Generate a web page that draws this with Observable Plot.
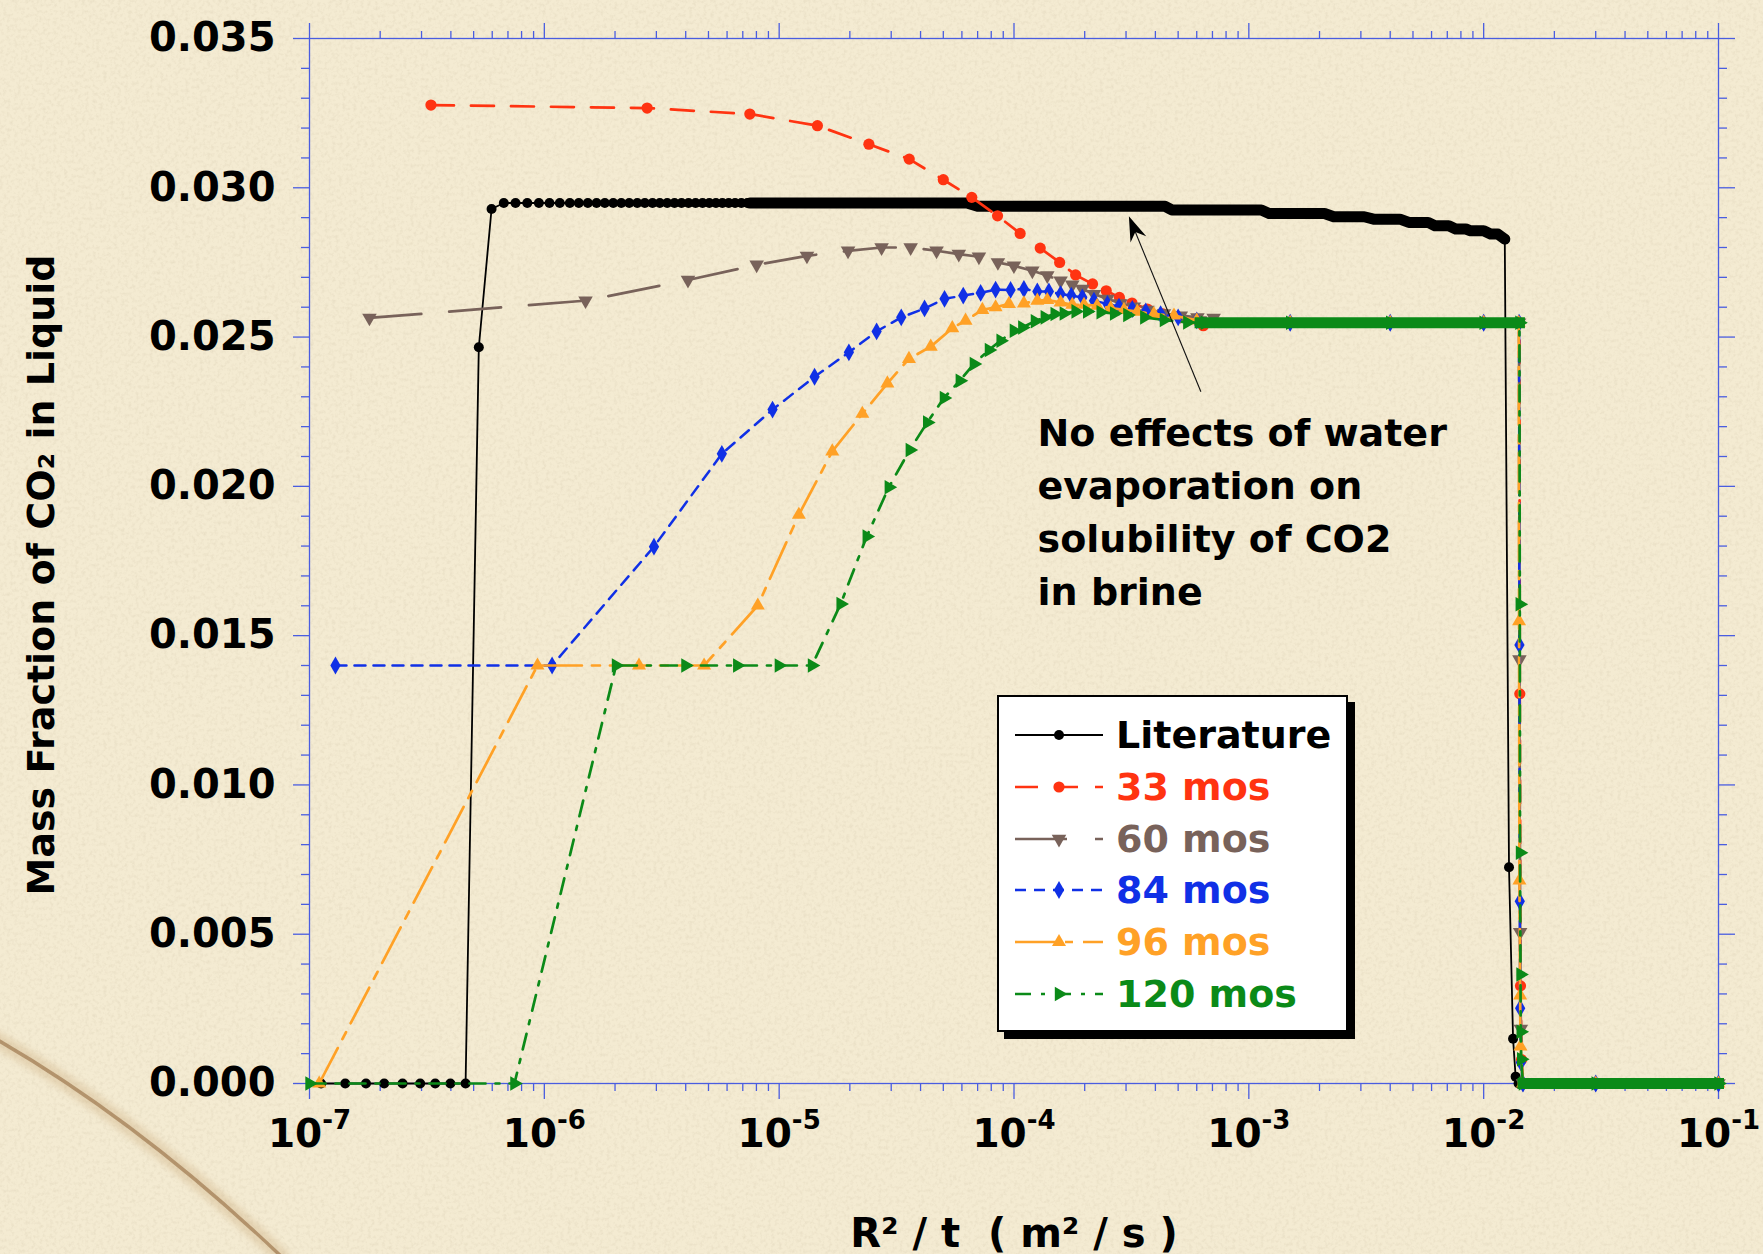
<!DOCTYPE html>
<html>
<head>
<meta charset="utf-8">
<script src="https://cdn.jsdelivr.net/npm/d3@7"></script>
<script src="https://cdn.jsdelivr.net/npm/@observablehq/plot@0.6"></script>
<style>
  html, body { margin: 0; padding: 0; background: #f2e8cd; }
  #wrap { position: relative; width: 1763px; height: 1254px; overflow: hidden; background: #f3e9cf; }
  #paper { position: absolute; left: 0; top: 0; }
  #wrap > svg.plot { position: absolute; left: 0; top: 0; }
  #legend { position: absolute; left: 997px; top: 695px; width: 351px; height: 337px; box-sizing: border-box;
            background: #ffffff; border: 2px solid #000; box-shadow: 7px 7px 0 #000; font-family: "DejaVu Sans", sans-serif; }
  .row { position: absolute; left: 0; height: 50px; width: 100%; }
  .row svg { position: absolute; left: 16px; top: 0; }
  .row span { position: absolute; left: 117px; top: 0; height: 50px; line-height: 50px; font-size: 38px; font-weight: bold; white-space: nowrap; }
</style>
</head>
<body>
<div id="wrap">
  <svg id="paper" width="1763" height="1254">
    <defs>
      <filter id="grain" x="0" y="0" width="100%" height="100%">
        <feTurbulence type="fractalNoise" baseFrequency="0.28" numOctaves="3" seed="7"/>
        <feColorMatrix type="matrix" values="0 0 0 0 0.50  0 0 0 0 0.42  0 0 0 0 0.28  0 0 0 -1.1 0.62"/>
      </filter>
      <filter id="soft"><feGaussianBlur stdDeviation="3"/></filter>
    </defs>
    <rect width="1763" height="1254" fill="#f4ebd2"/>
    <rect width="1763" height="1254" filter="url(#grain)" opacity="0.35"/>
    <path d="M-20,1030 C70,1080 170,1150 285,1260" stroke="#c9a878" stroke-width="16" fill="none" opacity="0.35" filter="url(#soft)"/>
    <path d="M-20,1030 C70,1080 170,1150 285,1260" stroke="#8a5f33" stroke-width="3.5" fill="none" opacity="0.55"/>
  </svg>
</div>
<script>
// ---------------- data ----------------
const xMajor = [1e-7, 1e-6, 1e-5, 1e-4, 1e-3, 1e-2, 1e-1];
const xTickLabels = ["10|-7", "10|-6", "10|-5", "10|-4", "10|-3", "10|-2", "10|-1"];
const yMajor = [0, 0.005, 0.010, 0.015, 0.020, 0.025, 0.030, 0.035];
const yTickLabels = ["0.000", "0.005", "0.010", "0.015", "0.020", "0.025", "0.030", "0.035"];

const seriesNames = ["Literature", "33 mos", "60 mos", "84 mos", "96 mos", "120 mos"];

// Literature (individually visible points)
const litX = [1.12e-7, 1.42e-7, 1.74e-7, 2.08e-7, 2.49e-7, 2.96e-7, 3.43e-7, 3.98e-7, 4.62e-7,
  5.26e-7, 5.96e-7,
  6.72e-7, 7.54e-7, 8.46e-7, 9.48e-7, 1.052e-6, 1.164e-6, 1.284e-6, 1.402e-6, 1.532e-6, 1.669e-6,
  1.81e-6, 1.965e-6, 2.126e-6, 2.299e-6, 2.487e-6, 2.679e-6, 2.889e-6, 3.103e-6, 3.336e-6, 3.584e-6,
  3.839e-6, 4.112e-6, 4.406e-6, 4.718e-6, 5.04e-6, 5.38e-6, 5.73e-6, 6.10e-6, 6.49e-6, 6.90e-6,
  7.32e-6, 7.77e-6, 8.23e-6,
  1.23e-2, 1.282e-2, 1.334e-2, 1.368e-2, 1.408e-2];
const litY = [0, 0, 0, 0, 0, 0, 0, 0, 0,
  0.02466, 0.02929,
  0.02949, 0.02949, 0.02949, 0.02949, 0.02949, 0.02949, 0.02949, 0.02949, 0.02949, 0.02949,
  0.02949, 0.02949, 0.02949, 0.02949, 0.02949, 0.02949, 0.02949, 0.02949, 0.02949, 0.02949,
  0.02949, 0.02949, 0.02949, 0.02949, 0.02949, 0.02949, 0.02949, 0.02949, 0.02949, 0.02949,
  0.02949, 0.02949, 0.02949,
  0.02828, 0.00724, 0.0015, 0.00023, 0];
// Literature: densely packed points that merge into a solid band
const litBandX = [7.5e-6, 6.3e-5, 7.0e-5, 4.4e-4, 4.7e-4, 1.13e-3, 1.22e-3, 2.1e-3, 2.3e-3, 3.1e-3, 3.4e-3,
  4.4e-3, 4.8e-3, 5.8e-3, 6.2e-3, 7.1e-3, 7.6e-3, 8.4e-3, 8.8e-3, 1.0e-2, 1.07e-2, 1.15e-2, 1.23e-2];
const litBandY = [0.02949, 0.02949, 0.02938, 0.02938, 0.02926, 0.02926, 0.02914, 0.02914, 0.02903, 0.02903, 0.02895,
  0.02895, 0.02884, 0.02884, 0.02873, 0.02873, 0.02862, 0.02862, 0.02856, 0.02856, 0.02845, 0.02845, 0.02828];

const redX = [3.29e-7, 2.74e-6, 7.50e-6, 1.455e-5, 2.41e-5, 3.58e-5, 5.00e-5, 6.61e-5, 8.51e-5, 1.062e-4,
  1.293e-4, 1.564e-4, 1.83e-4, 2.16e-4, 2.47e-4, 2.81e-4, 3.18e-4, 3.70e-4, 4.30e-4, 5.10e-4, 6.40e-4,
  1.5e-3, 4.0e-3, 1.0e-2, 1.42e-2, 1.425e-2, 1.435e-2, 1.45e-2, 1.47e-2, 3.0e-2, 0.1];
const redY = [0.03277, 0.03267, 0.03247, 0.03208, 0.03146, 0.03096, 0.03027, 0.02968, 0.02906, 0.02847,
  0.02798, 0.0275, 0.02708, 0.02678, 0.02655, 0.02633, 0.02614, 0.02594, 0.02578, 0.02566, 0.02538,
  0.02548, 0.02548, 0.02548, 0.02548, 0.01305, 0.00327, 0.0008, 0, 0, 0];

const grayX = [1.80e-7, 1.498e-6, 4.09e-6, 8.02e-6, 1.313e-5, 1.965e-5, 2.73e-5, 3.63e-5, 4.68e-5, 5.82e-5,
  7.09e-5, 8.54e-5, 9.99e-5, 1.197e-4, 1.386e-4, 1.579e-4, 1.771e-4, 1.954e-4, 2.19e-4, 2.50e-4,
  2.84e-4, 3.24e-4, 3.70e-4, 4.35e-4, 5.13e-4, 6.04e-4, 7.08e-4,
  1.5e-3, 4.0e-3, 1.0e-2, 1.415e-2, 1.42e-2, 1.43e-2, 1.44e-2, 1.47e-2, 3.0e-2, 0.1];
const grayY = [0.02564, 0.02622, 0.02691, 0.02742, 0.02772, 0.02789, 0.0280, 0.0280, 0.02789, 0.02778,
  0.02769, 0.0275, 0.02739, 0.02722, 0.02706, 0.02689, 0.02675, 0.02661, 0.02644, 0.02628,
  0.02613, 0.02602, 0.02591, 0.02579, 0.02572, 0.02566, 0.02564,
  0.02548, 0.02548, 0.02548, 0.02548, 0.0142, 0.00507, 0.00183, 0, 0, 0];

const blueX = [1.29e-7, 1.079e-6, 2.93e-6, 5.70e-6, 9.37e-6, 1.415e-5, 1.981e-5, 2.60e-5, 3.31e-5, 4.16e-5,
  5.06e-5, 6.08e-5, 7.21e-5, 8.35e-5, 9.67e-5, 1.102e-4, 1.257e-4, 1.408e-4, 1.579e-4, 1.754e-4,
  1.954e-4, 2.19e-4, 2.50e-4, 2.80e-4, 3.19e-4, 3.64e-4, 4.21e-4, 5.0e-4, 6.0e-4,
  1.5e-3, 4.0e-3, 1.0e-2, 1.415e-2, 1.42e-2, 1.425e-2, 1.43e-2, 1.44e-2, 1.47e-2, 3.0e-2, 0.1];
const blueY = [0.0140, 0.0140, 0.01798, 0.02109, 0.02257, 0.02367, 0.02449, 0.02519, 0.02566, 0.02596,
  0.02628, 0.02639, 0.02648, 0.02659, 0.02658, 0.02661, 0.02653, 0.02653, 0.02644, 0.02639,
  0.02633, 0.02622, 0.02611, 0.02602, 0.02594, 0.02586, 0.02577, 0.02566, 0.02556,
  0.02548, 0.02548, 0.02548, 0.02548, 0.01469, 0.0061, 0.00252, 0.0007, 0, 0, 0];

const orangeX = [1.10e-7, 9.35e-7, 2.53e-6, 4.79e-6, 8.11e-6, 1.213e-5, 1.683e-5, 2.26e-5, 2.89e-5, 3.57e-5,
  4.42e-5, 5.46e-5, 6.22e-5, 7.33e-5, 8.35e-5, 9.52e-5, 1.102e-4, 1.257e-4, 1.386e-4, 1.579e-4,
  1.771e-4, 1.987e-4, 2.26e-4, 2.58e-4, 2.94e-4, 3.35e-4, 3.94e-4, 4.80e-4, 6.0e-4,
  1.5e-3, 4.0e-3, 1.0e-2, 1.41e-2, 1.415e-2, 1.42e-2, 1.43e-2, 1.435e-2, 1.47e-2, 3.0e-2, 0.1];
const orangeY = [0, 0.0140, 0.0140, 0.0140, 0.01601, 0.01905, 0.02117, 0.02243, 0.02345, 0.02427,
  0.02468, 0.0253, 0.02555, 0.02591, 0.0260, 0.02611, 0.02613, 0.02622, 0.02624, 0.02616,
  0.02608, 0.02608, 0.02605, 0.02597, 0.02591, 0.02585, 0.02577, 0.02572, 0.02556,
  0.02548, 0.02548, 0.02548, 0.02548, 0.01548, 0.0068, 0.00295, 0.00124, 0, 0, 0];

const greenX = [1.0e-7, 7.46e-7, 2.02e-6, 3.99e-6, 6.63e-6, 9.97e-6, 1.38e-5, 1.827e-5, 2.36e-5, 2.93e-5,
  3.60e-5, 4.27e-5, 5.03e-5, 5.88e-5, 6.75e-5, 7.82e-5, 8.77e-5, 9.99e-5, 1.085e-4, 1.228e-4,
  1.353e-4, 1.49e-4, 1.63e-4, 1.83e-4, 2.05e-4, 2.34e-4, 2.67e-4, 3.04e-4, 3.59e-4, 4.35e-4,
  5.47e-4, 6.5e-4, 1.5e-3, 4.0e-3, 1.0e-2, 1.42e-2,
  1.425e-2, 1.428e-2, 1.435e-2, 1.438e-2, 1.445e-2, 1.47e-2, 3.0e-2, 0.1];
const greenY = [0, 0, 0.0140, 0.0140, 0.0140, 0.0140, 0.0140, 0.01606, 0.01832, 0.01997,
  0.02122, 0.02214, 0.02296, 0.02354, 0.0241, 0.02457, 0.02488, 0.02521, 0.02532, 0.02553,
  0.02566, 0.02577, 0.02579, 0.02586, 0.02586, 0.02583, 0.02579, 0.02574, 0.02566, 0.02557,
  0.02549, 0.02548, 0.02548, 0.02548, 0.02548, 0.02548,
  0.01605, 0.00773, 0.00365, 0.00173, 0.00081, 0, 0, 0];

// dense overlapping markers of the model runs forming solid bands
const modelBandX = [6.2e-4, 1.42e-2];
const modelBandY = [0.02548, 0.02548];
const zeroBandX = [1.47e-2, 0.1];
const zeroBandY = [0, 0];

// annotation
const noteX = [1.26e-4];
const noteY = [0.0226];
const noteText = ["No effects of water\nevaporation on\nsolubility of CO2\nin brine"];
const arrowX = [6.28e-4, 3.1e-4];
const arrowY = [0.02315, 0.02903];

// ---------------- styles ----------------
const AXIS = "#4a5de0";
const COLORS = ["#000000", "#ff3311", "#78625a", "#1030e6", "#ffa126", "#0b8a18"];
const DASH = [null, "23,17", "52,28", "11,8", "40,10,8,10", "16,10,4,10"];
const FONT = "DejaVu Sans, sans-serif";

const rows = (xs, ys) => xs.map((x, i) => ({x, y: ys[i]}));
const lit = rows(litX, litY);
const litBand = rows(litBandX, litBandY);
const litLine = lit.concat(litBand).sort((a, b) => a.x - b.x);
const red = rows(redX, redY), gray = rows(grayX, grayY), blue = rows(blueX, blueY);
const orange = rows(orangeX, orangeY), green = rows(greenX, greenY);

const xMinor = [];
for (let e = -7; e < -1; e++) for (let k = 2; k <= 9; k++) xMinor.push(k * Math.pow(10, e));
const yMinor = d3.range(0, 36).map(i => i / 1000).filter(v => Math.round(v * 1000) % 5 !== 0);

function arrowMark(index, scales) {
  const x1 = scales.x(arrowX[0]), y1 = scales.y(arrowY[0]);
  const x2 = scales.x(arrowX[1]), y2 = scales.y(arrowY[1]);
  const dx = x2 - x1, dy = y2 - y1, L = Math.hypot(dx, dy);
  const ux = dx / L, uy = dy / L, px = -uy, py = ux;
  const len = 25, hw = 8.5, notch = 8;
  const bx = x2 - ux * len, by = y2 - uy * len;
  const nx = x2 - ux * (len - notch), ny = y2 - uy * (len - notch);
  const g = d3.create("svg:g");
  g.append("line").attr("x1", x1).attr("y1", y1).attr("x2", nx).attr("y2", ny)
    .attr("stroke", "#111").attr("stroke-width", 1.1);
  g.append("path")
    .attr("d", `M${x2},${y2}L${bx + px * hw},${by + py * hw}L${nx},${ny}L${bx - px * hw},${by - py * hw}Z`)
    .attr("fill", "#000");
  return g.node();
}

const axisCommon = {stroke: AXIS, strokeWidth: 1.3, label: null};
const blank = () => "";
const R = [5, 5.6, 5.4, 5.4, 5.2, 5.4];

const plot = Plot.plot({
  width: 1763,
  height: 1254,
  marginLeft: 309,
  marginRight: 45,
  marginTop: 38,
  marginBottom: 171,
  className: "plot",
  style: {background: "transparent", fontFamily: FONT, color: "#000"},
  x: {type: "log", domain: [1e-7, 0.1]},
  y: {domain: [0, 0.035]},
  marks: [
    // axes
    Plot.frame({stroke: AXIS, strokeWidth: 1.3}),
    Plot.axisX({...axisCommon, anchor: "bottom", ticks: xMajor, tickSize: 16, tickPadding: 20,
      tickFormat: d => xTickLabels[xMajor.indexOf(d)], fill: "#000", fontSize: 39, fontWeight: "bold"}),
    Plot.axisX({...axisCommon, anchor: "bottom", ticks: xMinor, tickSize: 8, tickFormat: blank}),
    Plot.axisX({...axisCommon, anchor: "top", ticks: xMajor, tickSize: 16, tickFormat: blank}),
    Plot.axisX({...axisCommon, anchor: "top", ticks: xMinor, tickSize: 8, tickFormat: blank}),
    Plot.axisY({...axisCommon, anchor: "left", ticks: yMajor, tickSize: 16, tickPadding: 18,
      tickFormat: d => yTickLabels[yMajor.indexOf(d)], fill: "#000", fontSize: 40, fontWeight: "bold"}),
    Plot.axisY({...axisCommon, anchor: "left", ticks: yMinor, tickSize: 8, tickFormat: blank}),
    Plot.axisY({...axisCommon, anchor: "right", ticks: yMajor, tickSize: 16, tickFormat: blank}),
    Plot.axisY({...axisCommon, anchor: "right", ticks: yMinor, tickSize: 8, tickFormat: blank}),

    // axis titles
    Plot.text(["Mass Fraction of CO\u2082 in Liquid"], {frameAnchor: "left", dx: -268, dy: 14, rotate: -90,
      textAnchor: "middle", lineAnchor: "middle", fontSize: 38, fontWeight: "bold", fill: "#000"}),
    Plot.text(["R\u00B2 / t \u00A0( m\u00B2 / s )"], {frameAnchor: "bottom", dy: 163, lineAnchor: "bottom",
      textAnchor: "middle", fontSize: 40, fontWeight: "bold", fill: "#000"}),

    // Literature
    Plot.line(litLine, {x: "x", y: "y", stroke: COLORS[0], strokeWidth: 1.8}),
    Plot.line(litBand, {x: "x", y: "y", stroke: COLORS[0], strokeWidth: 11, strokeLinecap: "round", strokeLinejoin: "round"}),
    Plot.dot(lit, {x: "x", y: "y", fill: COLORS[0], r: R[0], symbol: "circle"}),

    // 33 mos
    Plot.line(red, {x: "x", y: "y", stroke: COLORS[1], strokeWidth: 2.7, strokeDasharray: DASH[1]}),
    Plot.dot(red, {x: "x", y: "y", fill: COLORS[1], r: R[1], symbol: "circle"}),
    // 60 mos
    Plot.line(gray, {x: "x", y: "y", stroke: COLORS[2], strokeWidth: 2.7, strokeDasharray: DASH[2]}),
    Plot.dot(gray, {x: "x", y: "y", fill: COLORS[2], r: R[2], symbol: "triangle", rotate: 180}),
    // 84 mos
    Plot.line(blue, {x: "x", y: "y", stroke: COLORS[3], strokeWidth: 2.5, strokeDasharray: DASH[3]}),
    Plot.dot(blue, {x: "x", y: "y", fill: COLORS[3], r: R[3], symbol: "diamond"}),
    // 96 mos
    Plot.line(orange, {x: "x", y: "y", stroke: COLORS[4], strokeWidth: 2.7, strokeDasharray: DASH[4]}),
    Plot.dot(orange, {x: "x", y: "y", fill: COLORS[4], r: R[4], symbol: "triangle"}),
    // 120 mos
    Plot.line(green, {x: "x", y: "y", stroke: COLORS[5], strokeWidth: 2.7, strokeDasharray: DASH[5]}),
    Plot.dot(green, {x: "x", y: "y", fill: COLORS[5], r: R[5], symbol: "triangle", rotate: 90}),
    Plot.line(rows(modelBandX, modelBandY), {x: "x", y: "y", stroke: COLORS[5], strokeWidth: 11, strokeLinecap: "square"}),
    Plot.line(rows(zeroBandX, zeroBandY), {x: "x", y: "y", stroke: COLORS[5], strokeWidth: 11, strokeLinecap: "square"}),

    // annotation
    Plot.text(noteText, {x: () => noteX[0], y: () => noteY[0], textAnchor: "start", lineAnchor: "top",
      lineHeight: 1.39, fontSize: 38, fontWeight: "bold", fill: "#000"}),
    arrowMark
  ]
});

const wrap = document.getElementById("wrap");
wrap.appendChild(plot);
plot.style.position = "absolute";
plot.style.left = "0px";
plot.style.top = "0px";

// render "10|-7" as 10 with a raised exponent
d3.select(plot).selectAll("text").each(function () {
  const t = this.textContent;
  if (!t.includes("|")) return;
  const [base, exp] = t.split("|");
  const sel = d3.select(this);
  sel.text(null);
  sel.append("tspan").text(base);
  sel.append("tspan").attr("dy", -18).attr("font-size", 26).text(exp);
});

// ---------------- legend ----------------
const legend = document.createElement("div");
legend.id = "legend";
wrap.appendChild(legend);
const symbols = [
  {type: d3.symbolCircle, rot: 0},
  {type: d3.symbolCircle, rot: 0},
  {type: d3.symbolTriangle, rot: 180},
  {type: d3.symbolDiamond, rot: 0},
  {type: d3.symbolTriangle, rot: 0},
  {type: d3.symbolTriangle, rot: 90}
];
seriesNames.forEach((name, i) => {
  const row = d3.select(legend).append("div").attr("class", "row").style("top", (13 + i * 51.8) + "px");
  const svg = row.append("svg").attr("width", 92).attr("height", 50);
  svg.append("line").attr("x1", 0).attr("x2", 88).attr("y1", 25).attr("y2", 25)
    .attr("stroke", COLORS[i]).attr("stroke-width", i === 0 ? 1.8 : 2.6)
    .attr("stroke-dasharray", DASH[i]);
  const s = symbols[i];
  svg.append("path").attr("d", d3.symbol(s.type, Math.PI * R[i] * R[i])())
    .attr("transform", `translate(44,25) rotate(${s.rot})`).attr("fill", COLORS[i]);
  row.append("span").text(name).style("color", COLORS[i]);
});
</script>
</body>
</html>
